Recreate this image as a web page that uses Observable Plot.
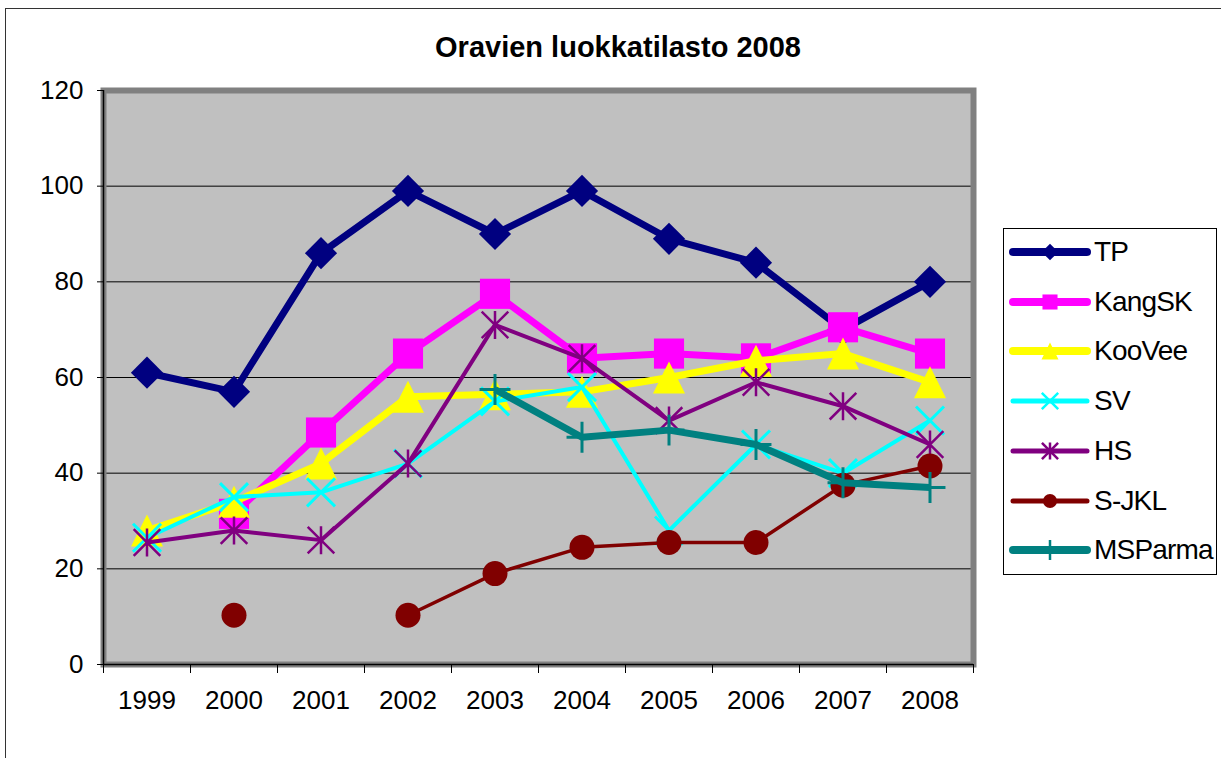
<!DOCTYPE html>
<html><head><meta charset="utf-8">
<script src="https://cdn.jsdelivr.net/npm/d3@7"></script>
<script src="https://cdn.jsdelivr.net/npm/@observablehq/plot@0.6"></script>
<style>
html,body{margin:0;padding:0;background:#fff;overflow:hidden;}
#wrap{position:relative;width:1221px;height:758px;font-family:"Liberation Sans",Arial,sans-serif;overflow:hidden;}
#border{position:absolute;left:5px;top:8px;width:1240px;height:800px;border:1.5px solid #333;box-sizing:border-box;}
#title{position:absolute;left:0;width:1236px;top:33px;text-align:center;font-weight:bold;font-size:29px;line-height:29px;color:#000;}
#chart{position:absolute;left:0;top:0;}
#legend{position:absolute;left:1003px;top:228px;width:214px;height:347px;box-sizing:border-box;border:1.5px solid #000;background:#fff;}
.li{position:absolute;left:0;height:40px;width:212px;}
.li svg{position:absolute;left:0;top:0;}
.li span{position:absolute;left:90px;top:0;line-height:40px;font-size:28px;color:#000;white-space:nowrap;letter-spacing:-0.8px;}
</style></head>
<body><div id="wrap"><div id="border"></div><div id="chart"></div><div id="title">Oravien luokkatilasto 2008</div><div id="legend"></div></div>
<script>
// ---- data ----
const years = [1999, 2000, 2001, 2002, 2003, 2004, 2005, 2006, 2007, 2008];
const TP      = [61, 57, 86, 99, 90, 99, 89, 84, 70, 80];
const KangSK  = [null, 31.5, 48.5, 65, 77.5, 64, 65, 64, 70.5, 65];
const KooVee  = [28, 34, 42, 56, 56.5, 57, 60, 63.5, 65, 59];
const SV      = [26.5, 35, 36, 42, 55, 58, 28, 46, 40, 51];
const HS      = [25.5, 28, 26, 42, 71, 64, 51, 59, 54, 46];
const SJKL    = [null, 10.3, null, 10.3, 19, 24.5, 25.5, 25.5, 37.5, 41.5];
const MSParma = [null, null, null, null, 57.5, 47.5, 49, 46, 38, 37];
const seriesNames = ["TP", "KangSK", "KooVee", "SV", "HS", "S-JKL", "MSParma"];
const seriesValues = [TP, KangSK, KooVee, SV, HS, SJKL, MSParma];
const yTicks = [0, 20, 40, 60, 80, 100, 120];
const gridValues = [20, 40, 60, 80, 100];

// ---- custom marker shapes (Excel style) ----
const excelStar = {draw(ctx, size) {
  const r = Math.sqrt(size / Math.PI);
  const h = r * 0.95;
  ctx.moveTo(-h, -h); ctx.lineTo(h, h);
  ctx.moveTo(-h, h); ctx.lineTo(h, -h);
  ctx.moveTo(0, -r); ctx.lineTo(0, r);
}};
const excelTriangle = {draw(ctx, size) {
  const r = Math.sqrt(size / Math.PI);
  ctx.moveTo(0, -r); ctx.lineTo(r, r); ctx.lineTo(-r, r); ctx.closePath();
}};

const styles = [
  {color: "#000080", lw: 7,   sym: d3.symbolDiamond2, r: 14.5, filled: true,  lr: 7.5, llw: 8},
  {color: "#FF00FF", lw: 7,   sym: d3.symbolSquare,   r: 17,   filled: true,  lr: 8.5, llw: 8},
  {color: "#FFFF00", lw: 7,   sym: excelTriangle,     r: 16,   filled: true,  lr: 8.5, llw: 8},
  {color: "#00FFFF", lw: 4,   sym: d3.symbolTimes,    r: 12.8, filled: false, sw: 3, lr: 7.5, llw: 5},
  {color: "#800080", lw: 4,   sym: excelStar,         r: 14,   filled: false, sw: 2.5, lr: 8.5, llw: 5},
  {color: "#800000", lw: 3.5, sym: d3.symbolCircle,   r: 12.5, filled: true,  lr: 7, llw: 5},
  {color: "#008080", lw: 7,   sym: d3.symbolPlus,     r: 10,   filled: false, sw: 3, lr: 6.5, llw: 8}
];

const rows = years.map((year, i) => {
  const o = {year};
  seriesNames.forEach((n, k) => { o[n] = seriesValues[k][i]; });
  return o;
});
const bounds = d3.range(years.length + 1).map(i => years[0] - 0.5 + i);

const marks = [
  Plot.frame({fill: "#C0C0C0"}),
  Plot.ruleY(gridValues, {stroke: "#000", strokeWidth: 1}),
  Plot.frame({stroke: "#808080", strokeWidth: 6}),
  Plot.ruleY([0], {stroke: "#000", strokeWidth: 1.5}),
  Plot.ruleX([bounds[0]], {stroke: "#000", strokeWidth: 1.5}),
  Plot.axisY(yTicks, {tickSize: 6, tickPadding: 14, fontSize: 26, label: null, tickFormat: d => String(d)}),
  Plot.axisX(bounds, {tickSize: 9, tickFormat: () => "", label: null}),
  Plot.axisX(years, {tickSize: 0, tickPadding: 26, fontSize: 26, label: null, tickFormat: d => String(d)})
];
seriesNames.forEach((n, k) => {
  const s = styles[k];
  marks.push(Plot.line(rows, {x: "year", y: n, stroke: s.color, strokeWidth: s.lw, strokeLinejoin: "miter", strokeLinecap: "butt"}));
  const defined = rows.filter(d => d[n] != null);
  if (s.filled) {
    marks.push(Plot.dot(defined, {x: "year", y: n, symbol: s.sym, r: s.r, fill: s.color, stroke: "none"}));
  } else {
    marks.push(Plot.dot(defined, {x: "year", y: n, symbol: s.sym, r: s.r, fill: "none", stroke: s.color, strokeWidth: s.sw}));
  }
});

const chart = Plot.plot({
  width: 1221, height: 758,
  marginLeft: 103, marginRight: 248, marginTop: 90, marginBottom: 94,
  x: {type: "linear", domain: [bounds[0], bounds[bounds.length - 1]], label: null},
  y: {type: "linear", domain: [0, 120], label: null},
  style: {background: "transparent", fontFamily: "'Liberation Sans', Arial, sans-serif", fontSize: "26px", color: "#000", overflow: "visible"},
  marks
});
document.getElementById("chart").appendChild(chart);

// ---- legend ----
const legend = d3.select("#legend");
seriesNames.forEach((n, k) => {
  const s = styles[k];
  const row = legend.append("div").attr("class", "li").style("top", (3 + k * 49.7) + "px");
  const svg = row.append("svg").attr("width", 90).attr("height", 40);
  svg.append("line").attr("x1", 9).attr("x2", 83).attr("y1", 20).attr("y2", 20)
    .attr("stroke", s.color).attr("stroke-width", s.llw).attr("stroke-linecap", "round");
  const p = svg.append("path").attr("transform", "translate(46,20)")
    .attr("d", d3.symbol(s.sym, Math.PI * s.lr * s.lr)());
  if (s.filled) p.attr("fill", s.color);
  else p.attr("fill", "none").attr("stroke", s.color).attr("stroke-width", 2.5);
  row.append("span").text(n);
});
</script>
</body></html>
